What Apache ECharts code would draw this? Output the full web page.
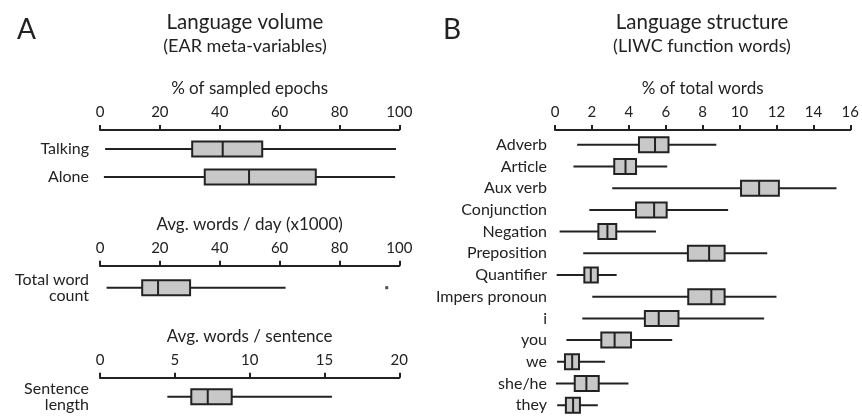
<!DOCTYPE html>
<html><head><meta charset="utf-8">
<script src="https://cdn.jsdelivr.net/npm/echarts@6/dist/echarts.min.js"></script>
<style>html,body{margin:0;padding:0;background:#fff}#c{width:862px;height:416px}</style>
</head><body><div id="c"></div>
<script>
// ---- data ----
const volumeCats = ['Talking', 'Alone'];
const volumeBoxes = [ // [min, Q1, median, Q3, max]
  [1.7, 30.8, 41.0, 54.2, 98.9],
  [1.3, 35.0, 49.8, 72.1, 98.6]
];
const wordsCats = ['Total word\ncount'];
const wordsBoxes = [[2.2, 14.1, 19.4, 30.1, 62.0]];
const wordsOutliers = [[95.8, 0]];
const sentenceCats = ['Sentence\nlength'];
const sentenceBoxes = [[4.5, 6.1, 7.2, 8.8, 15.5]];
const structCats = ['Adverb', 'Article', 'Aux verb', 'Conjunction', 'Negation', 'Preposition',
  'Quantifier', 'Impers pronoun', 'i', 'you', 'we', 'she/he', 'they'];
const structBoxes = [
  [1.2, 4.55, 5.42, 6.15, 8.74],
  [1.0, 3.21, 3.82, 4.39, 6.08],
  [3.1, 10.08, 11.06, 12.13, 15.25],
  [1.86, 4.39, 5.37, 6.05, 9.38],
  [0.25, 2.35, 2.84, 3.32, 5.47],
  [1.53, 7.2, 8.35, 9.19, 11.5],
  [0.09, 1.59, 1.94, 2.32, 3.34],
  [2.02, 7.22, 8.47, 9.19, 12.0],
  [1.48, 4.87, 5.62, 6.69, 11.33],
  [0.62, 2.51, 3.23, 4.12, 6.35],
  [0.11, 0.54, 0.93, 1.30, 2.71],
  [0.05, 1.07, 1.70, 2.37, 3.98],
  [0.12, 0.59, 0.98, 1.35, 2.32]
];
const axisNames = ['% of sampled epochs', 'Avg. words / day (x1000)', 'Avg. words / sentence', '% of total words'];
const axisMax = [100, 100, 20, 16];
const axisStep = [20, 20, 5, 2];

// ---- styling ----
const FONT = 'Lato';
const INK = '#222';
const BOXH = 15;

function renderBox(params, api) {
  const c = api.value(0);
  const y = api.coord([0, c])[1];
  const xs = [1, 2, 3, 4, 5].map(i => api.coord([api.value(i), c])[0]);
  return {
    type: 'group',
    children: [
      { type: 'line', shape: { x1: xs[0], y1: y, x2: xs[4], y2: y }, style: { stroke: INK, lineWidth: 2 } },
      { type: 'rect', shape: { x: xs[1], y: y - BOXH / 2, width: xs[3] - xs[1], height: BOXH },
        style: { fill: '#c8c8c8', stroke: INK, lineWidth: 2 } },
      { type: 'line', shape: { x1: xs[2], y1: y - BOXH / 2, x2: xs[2], y2: y + BOXH / 2 }, style: { stroke: INK, lineWidth: 2 } }
    ]
  };
}
function toRows(boxes) { return boxes.map((b, i) => [i].concat(b)); }

const grids = [
  { left: 100, width: 299.3, top: 135, height: 56 },
  { left: 100, width: 299.3, top: 265.7, height: 44 },
  { left: 100, width: 299.3, top: 377.7, height: 39 },
  { left: 555, width: 299, top: 134, height: 286.4 }
];
const xOffsets = [5, 0, 0, 4];
const cats = [volumeCats, wordsCats, sentenceCats, structCats];
const boxes = [volumeBoxes, wordsBoxes, sentenceBoxes, structBoxes];

const xAxes = grids.map((g, i) => ({
  gridIndex: i, type: 'value', position: 'top', offset: xOffsets[i],
  min: 0, max: axisMax[i], interval: axisStep[i],
  name: axisNames[i], nameLocation: 'middle', nameGap: 33,
  nameTextStyle: { fontFamily: FONT, fontSize: 17, color: INK },
  axisLine: { show: true, lineStyle: { color: INK, width: 2 } },
  axisTick: { show: true, length: 5, lineStyle: { color: INK, width: 2 } },
  axisLabel: { fontFamily: FONT, fontSize: 15, color: INK, margin: 10 },
  splitLine: { show: false }
}));
const yAxes = grids.map((g, i) => ({
  gridIndex: i, type: 'category', inverse: true, data: cats[i],
  axisLine: { show: false }, axisTick: { show: false },
  axisLabel: { interval: 0, fontFamily: FONT, fontSize: 16, color: INK, margin: i === 3 ? 8 : 11, lineHeight: 16 }
}));
const series = boxes.map((b, i) => ({
  type: 'custom', xAxisIndex: i, yAxisIndex: i, renderItem: renderBox,
  encode: { y: 0, x: [1, 2, 3, 4, 5] }, data: toRows(b), silent: true
}));
series.push({
  type: 'scatter', xAxisIndex: 1, yAxisIndex: 1, data: wordsOutliers,
  symbol: 'rect', symbolSize: 3, itemStyle: { color: INK }, silent: true
});

const chart = echarts.init(document.getElementById('c'), null, { renderer: 'canvas' });
chart.setOption({
  animation: false,
  backgroundColor: '#fff',
  grid: grids,
  xAxis: xAxes,
  yAxis: yAxes,
  series: series,
  graphic: [
    { type: 'text', left: 17, top: 16, style: { text: 'A', fontFamily: FONT, fontSize: 28, fill: INK } },
    { type: 'text', left: 443, top: 16, style: { text: 'B', fontFamily: FONT, fontSize: 28, fill: INK } },
    { type: 'text', x: 245, y: 22, style: { text: 'Language volume', fontFamily: FONT, fontSize: 20.5, fill: INK, align: 'center', verticalAlign: 'middle' } },
    { type: 'text', x: 245, y: 46, style: { text: '(EAR meta-variables)', fontFamily: FONT, fontSize: 18, fill: INK, align: 'center', verticalAlign: 'middle' } },
    { type: 'text', x: 702, y: 22, style: { text: 'Language structure', fontFamily: FONT, fontSize: 20.5, fill: INK, align: 'center', verticalAlign: 'middle' } },
    { type: 'text', x: 702, y: 46, style: { text: '(LIWC function words)', fontFamily: FONT, fontSize: 18, fill: INK, align: 'center', verticalAlign: 'middle' } }
  ]
});
</script>
</body></html>
